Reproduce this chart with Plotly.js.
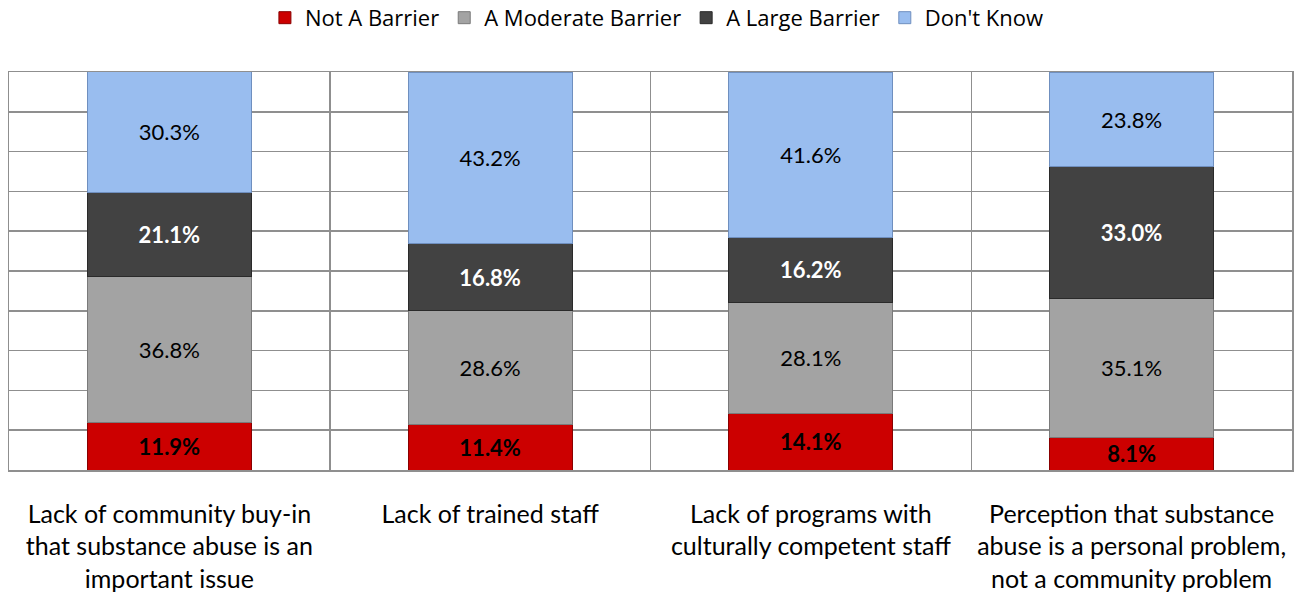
<!DOCTYPE html>
<html>
<head>
<meta charset="utf-8">
<script src="https://cdn.plot.ly/plotly-3.0.1.min.js"></script>
<style>html,body{margin:0;padding:0;background:#fff;}#chart{width:1295px;height:596px;}</style>
</head>
<body>
<div id="chart"></div>
<script>
var categories = [
  "Lack of community buy-in<br>that substance abuse is an<br>important issue",
  "Lack of trained staff<br> <br> ",
  "Lack of programs with<br>culturally competent staff<br> ",
  "Perception that substance<br>abuse is a personal problem,<br>not a community problem"
];
var seriesNames = ["Not A Barrier", "A Moderate Barrier", "A Large Barrier", "Don't Know"];
var notABarrier = [11.9, 11.4, 14.1, 8.1];
var moderateBarrier = [36.8, 28.6, 28.1, 35.1];
var largeBarrier = [21.1, 16.8, 16.2, 33.0];
var dontKnow = [30.3, 43.2, 41.6, 23.8];

var seriesValues = [notABarrier, moderateBarrier, largeBarrier, dontKnow];
var colors = ["#cc0000", "#a3a3a3", "#424242", "#99bdef"];
var lineColors = ["#8a0000", "#7a7a7a", "#2a2a2a", "#6f8fbf"];
var textColors = ["#000000", "#000000", "#ffffff", "#000000"];
var textWeights = ["bold", "normal", "bold", "normal"];
var labelFont = "Lato, 'Open Sans', sans-serif";

var traces = seriesValues.map(function (vals, i) {
  return {
    type: "bar",
    name: seriesNames[i],
    x: categories,
    y: vals,
    text: vals.map(function (v) { return v.toFixed(1) + "%"; }),
    textposition: "inside",
    insidetextanchor: "middle",
    textangle: 0,
    constraintext: "none",
    textfont: { family: labelFont, size: 22, color: textColors[i], weight: textWeights[i] },
    marker: { color: colors[i], line: { color: lineColors[i], width: 1 } },
    hoverinfo: "skip"
  };
});

var layout = {
  width: 1295,
  height: 596,
  margin: { l: 9, r: 3, t: 72, b: 126, autoexpand: false },
  paper_bgcolor: "#ffffff",
  plot_bgcolor: "#ffffff",
  barmode: "stack",
  bargap: 0.489,
  showlegend: true,
  uniformtext: { mode: "show", minsize: 22 },
  legend: {
    orientation: "h",
    x: 0.505,
    xanchor: "center",
    y: 1.136,
    yanchor: "middle",
    font: { family: "'Open Sans', sans-serif", size: 22, color: "#000000" },
    traceorder: "normal",
    itemwidth: 30
  },
  xaxis: {
    type: "category",
    tickson: "boundaries",
    showgrid: true,
    gridcolor: "#8f8f8f",
    gridwidth: 1.5,
    ticks: "",
    showline: true,
    linecolor: "#8f8f8f",
    linewidth: 1.5,
    mirror: true,
    ticklabelstandoff: 21,
    tickfont: { family: labelFont, size: 25, color: "#000000" },
    fixedrange: true
  },
  yaxis: {
    range: [0, 100],
    dtick: 10,
    showticklabels: false,
    showgrid: true,
    gridcolor: "#8f8f8f",
    gridwidth: 1.5,
    zeroline: false,
    showline: true,
    linecolor: "#8f8f8f",
    linewidth: 1.5,
    mirror: true,
    ticks: "",
    fixedrange: true
  }
};

Plotly.newPlot("chart", traces, layout, { displayModeBar: false, staticPlot: true });
</script>
</body>
</html>
